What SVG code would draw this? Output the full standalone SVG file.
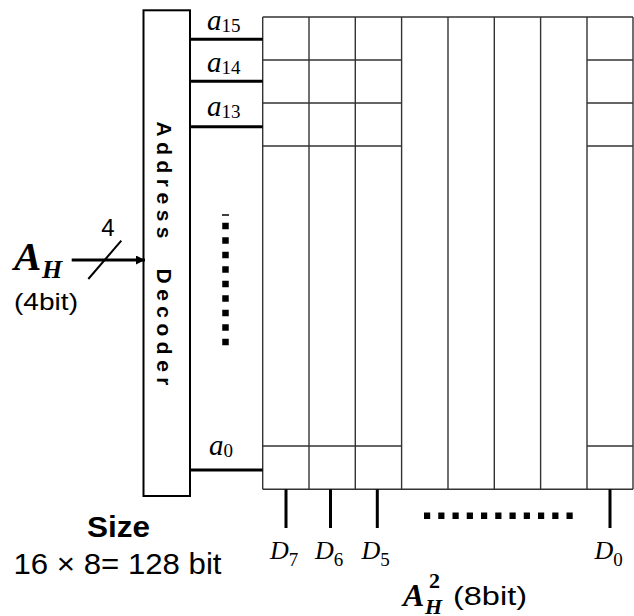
<svg xmlns="http://www.w3.org/2000/svg" width="634" height="616" viewBox="0 0 634 616">
<style>
.grid{stroke:#333;stroke-width:1.4;fill:none}
.thick{stroke:#000;stroke-width:3;fill:none}
.box{stroke:#000;stroke-width:2;fill:#fff}
.sans{font-family:"Liberation Sans",Arial,sans-serif;fill:#000}
.math{font-family:"Liberation Serif","Times New Roman",serif;font-style:italic;fill:#000}
.sub{font-style:normal}
.dec{font-family:"Liberation Sans",Arial,sans-serif;font-weight:bold;font-size:21px;letter-spacing:5.5px;fill:#000}
</style>
<defs>
<marker id="arr" viewBox="0 0 10 10" refX="10" refY="5" markerWidth="10" markerHeight="9" markerUnits="userSpaceOnUse" orient="auto">
<path d="M0,0 L10,5 L0,10 z" fill="#000"/>
</marker>
</defs>
<rect width="634" height="616" fill="#fff"/>

<g id="memory-array">
<line class="grid" x1="262.7" y1="17" x2="633" y2="17"/>
<line class="grid" x1="262.7" y1="489.3" x2="633" y2="489.3"/>
<line class="grid" x1="262.7" y1="17" x2="262.7" y2="489.3"/>
<line class="grid" x1="309" y1="17" x2="309" y2="489.3"/>
<line class="grid" x1="355.3" y1="17" x2="355.3" y2="489.3"/>
<line class="grid" x1="401.6" y1="17" x2="401.6" y2="489.3"/>
<line class="grid" x1="448" y1="17" x2="448" y2="489.3"/>
<line class="grid" x1="494.3" y1="17" x2="494.3" y2="489.3"/>
<line class="grid" x1="540.6" y1="17" x2="540.6" y2="489.3"/>
<line class="grid" x1="587" y1="17" x2="587" y2="489.3"/>
<line class="grid" x1="633" y1="17" x2="633" y2="489.3"/>
<line class="grid" x1="262.7" y1="60" x2="401.6" y2="60"/>
<line class="grid" x1="262.7" y1="103" x2="401.6" y2="103"/>
<line class="grid" x1="262.7" y1="146" x2="401.6" y2="146"/>
<line class="grid" x1="262.7" y1="446" x2="401.6" y2="446"/>
<line class="grid" x1="587" y1="60" x2="633" y2="60"/>
<line class="grid" x1="587" y1="103" x2="633" y2="103"/>
<line class="grid" x1="587" y1="146" x2="633" y2="146"/>
<line class="grid" x1="587" y1="446" x2="633" y2="446"/>
</g>

<g id="decoder">
<rect class="box" x="143.5" y="10.3" width="46.5" height="485.7"/>
<text class="dec" transform="translate(157,121.5) rotate(90)">Address</text>
<text class="dec" transform="translate(157,268.5) rotate(90)">Decoder</text>
</g>

<g id="connectors">
<line class="thick" x1="190" y1="39.3" x2="262.7" y2="39.3"/>
<line class="thick" x1="190" y1="81.3" x2="262.7" y2="81.3"/>
<line class="thick" x1="190" y1="126.7" x2="262.7" y2="126.7"/>
<line class="thick" x1="190" y1="470" x2="262.7" y2="470"/>
<line class="thick" x1="286" y1="489.3" x2="286" y2="528"/>
<line class="thick" x1="330.5" y1="489.3" x2="330.5" y2="528"/>
<line class="thick" x1="377.3" y1="489.3" x2="377.3" y2="528"/>
<line class="thick" x1="610" y1="489.3" x2="610" y2="528"/>
<line stroke="#000" stroke-width="3" x1="71.7" y1="260" x2="145" y2="260" marker-end="url(#arr)"/>
<line stroke="#000" stroke-width="2" x1="88.3" y1="279" x2="121.3" y2="240.7"/>
<line stroke="#000" stroke-width="6.5" stroke-dasharray="6.5 8" x1="225.5" y1="222.7" x2="225.5" y2="345.7"/>
<line stroke="#000" stroke-width="1.5" x1="222" y1="215" x2="229" y2="215"/>
<line stroke="#000" stroke-width="6.5" stroke-dasharray="6.2 8.05" x1="424" y1="515.7" x2="572.7" y2="515.7"/>
</g>

<g id="labels">
<text class="math" x="207" y="30" font-size="29">a<tspan class="sub" font-size="19" dy="2">15</tspan></text>
<text class="math" x="207" y="72" font-size="29">a<tspan class="sub" font-size="19" dy="2">14</tspan></text>
<text class="math" x="207" y="116" font-size="29">a<tspan class="sub" font-size="19" dy="2">13</tspan></text>
<text class="math" x="209" y="455" font-size="29">a<tspan class="sub" font-size="19" dy="2">0</tspan></text>
<text class="math" x="270" y="559" font-size="26">D<tspan class="sub" font-size="19" dy="7">7</tspan></text>
<text class="math" x="315" y="559" font-size="26">D<tspan class="sub" font-size="19" dy="7">6</tspan></text>
<text class="math" x="361.5" y="559" font-size="26">D<tspan class="sub" font-size="19" dy="7">5</tspan></text>
<text class="math" x="594.5" y="559" font-size="26">D<tspan class="sub" font-size="19" dy="7">0</tspan></text>
<text class="math" x="14" y="270" font-size="41" font-weight="bold">A</text>
<text class="math" x="42" y="278" font-size="26" font-weight="bold">H</text>
<text class="sans" x="108" y="236" font-size="24" text-anchor="middle">4</text>
<text class="sans" x="14" y="310" font-size="24" textLength="64" lengthAdjust="spacingAndGlyphs">(4bit)</text>
<text class="sans" x="87" y="537" font-size="30" font-weight="bold" textLength="63" lengthAdjust="spacingAndGlyphs">Size</text>
<text class="sans" x="13.5" y="574" font-size="29" textLength="208" lengthAdjust="spacingAndGlyphs">16 × 8= 128 bit</text>
<text class="math" x="403" y="606" font-size="32" font-weight="bold">A</text>
<text class="math" x="425" y="614" font-size="22" font-weight="bold">H</text>
<text x="429" y="588" font-size="22" font-weight="bold" font-family="Liberation Serif, serif">2</text>
<text class="sans" x="453" y="605" font-size="26" textLength="74" lengthAdjust="spacingAndGlyphs">(8bit)</text>
</g>
</svg>
